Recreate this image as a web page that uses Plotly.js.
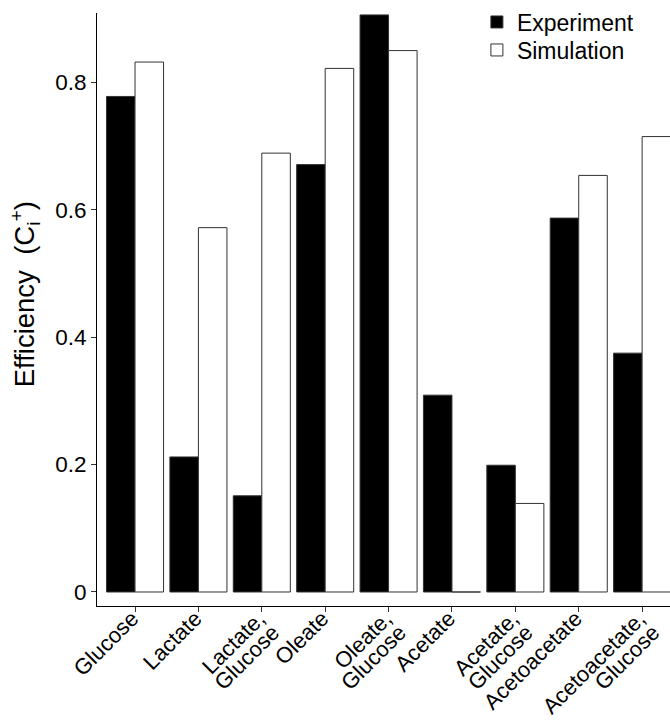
<!DOCTYPE html>
<html><head><meta charset="utf-8">
<script src="https://cdn.plot.ly/plotly-3.0.1.min.js"></script>
<style>html,body{margin:0;padding:0;background:#fff}</style>
</head><body>
<div id="chart" style="width:670px;height:722px"></div>
<script>
const categories = ["Glucose","Lactate","Lactate, Glucose","Oleate","Oleate, Glucose","Acetate","Acetate, Glucose","Acetoacetate","Acetoacetate, Glucose"];
const tickLine1 = ["Glucose","Lactate","Lactate,","Oleate","Oleate,","Acetate","Acetate,","Acetoacetate","Acetoacetate,"];
const tickLine2 = ["","","Glucose","","Glucose","","Glucose","","Glucose"];
const experiment = [0.778,0.212,0.151,0.671,0.906,0.309,0.199,0.587,0.375];
const simulation = [0.832,0.572,0.689,0.822,0.850,0,0.139,0.654,0.715];
const yTicks = [0,0.2,0.4,0.6,0.8];
const yTickLabels = ["0","0.2","0.4","0.6","0.8"];

const font = "Liberation Sans, Arial, sans-serif";
const catIndex = categories.map((c, i) => i);
const xRange = [-0.6, 8.44];
const data = [
  {type:"bar", name:"Experiment", x:categories, y:experiment, legend:"legend",
   marker:{color:"#000000", line:{color:"#333333", width:1}}},
  {type:"bar", name:"Simulation", x:categories, y:simulation, legend:"legend2",
   marker:{color:"#ffffff", line:{color:"#333333", width:1}}},
  {type:"scatter", mode:"none", x:catIndex, y:experiment, xaxis:"x2", yaxis:"y",
   showlegend:false, hoverinfo:"skip"}
];
const legendBase = {x:0.663, xanchor:"left", yanchor:"middle", bgcolor:"rgba(0,0,0,0)",
                    font:{family:font, size:23, color:"#000"}};
const tickFont = {family:font, size:22, color:"#000"};
const layout = {
  width:670, height:722,
  margin:{l:97, r:0, t:13, b:116, pad:0},
  paper_bgcolor:"#fff", plot_bgcolor:"#fff",
  font:{family:font, size:22, color:"#000"},
  barmode:"group", bargap:0.1, bargroupgap:0,
  showlegend:true,
  legend:Object.assign({}, legendBase, {y:0.9848}),
  legend2:Object.assign({}, legendBase, {y:0.9376}),
  xaxis:{type:"category", range:xRange, showgrid:false, zeroline:false,
         showline:true, linecolor:"#000", linewidth:1,
         ticks:"outside", ticklen:5, tickcolor:"#333", tickwidth:1,
         tickvals:categories, ticktext:tickLine1,
         ticklabelstandoff:-15, ticklabelshift:-3,
         tickangle:-45, tickfont:tickFont},
  xaxis2:{type:"linear", overlaying:"x", anchor:"y", side:"bottom", range:xRange,
         showgrid:false, zeroline:false, showline:false,
         ticks:"outside", ticklen:5, tickcolor:"rgba(0,0,0,0)", tickwidth:1,
         tickvals:catIndex, ticktext:tickLine2,
         ticklabelstandoff:-1, ticklabelshift:11,
         tickangle:-45, tickfont:tickFont},
  yaxis:{range:[-0.022, 0.909], showgrid:false, zeroline:false,
         showline:true, linecolor:"#000", linewidth:1,
         ticks:"outside", ticklen:5, tickcolor:"#333", tickwidth:1,
         tickvals:yTicks, ticktext:yTickLabels,
         tickfont:{family:font, size:22.5, color:"#000"},
         title:{text:"&nbsp;&nbsp;&nbsp;&nbsp;Efficiency&nbsp; (C<sub>i</sub><sup>+</sup>)", standoff:12,
                font:{family:font, size:27.5, color:"#000"}}}
};
Plotly.newPlot("chart", data, layout, {staticPlot:true, displayModeBar:false});
</script>
</body></html>
